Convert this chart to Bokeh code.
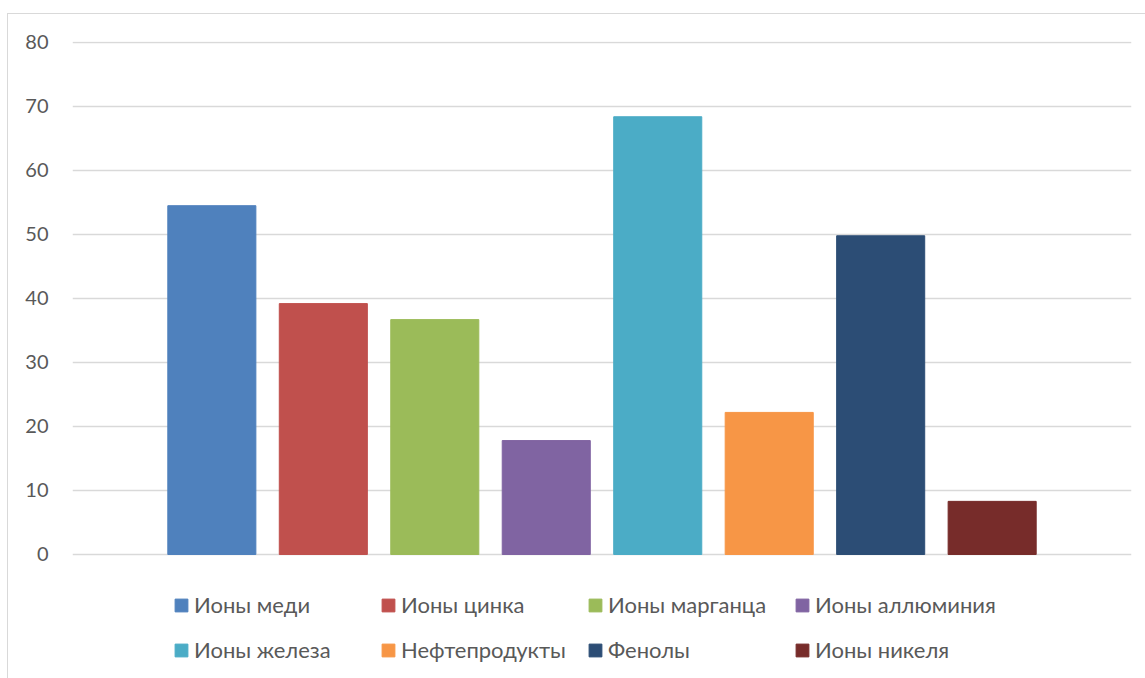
from bokeh.plotting import figure
from bokeh.models import (ColumnDataSource, Range1d, FixedTicker, Legend, LegendItem)
from bokeh.embed import file_html
from bokeh.resources import INLINE

# Pollutant categories and their values
categories = ["Ионы меди", "Ионы цинка", "Ионы марганца", "Ионы аллюминия",
              "Ионы железа", "Нефтепродукты", "Фенолы", "Ионы никеля"]
values = [54.5, 39.2, 36.7, 17.8, 68.4, 22.2, 49.8, 8.3]
y_ticks = [0, 10, 20, 30, 40, 50, 60, 70, 80]

palette = ["#4F81BD", "#C0504D", "#9BBB59", "#8064A2",
           "#4BACC6", "#F79646", "#2C4D75", "#772C2A"]

FONT = "Lato"
TEXT_COLOR = "#595959"

source = ColumnDataSource(data=dict(
    x=list(range(len(categories))),
    top=values,
    label=categories,
    color=palette,
))

# The frame reaches down past zero so that the legend rows sit inside it.
p = figure(
    width=1138, height=665,
    x_range=Range1d(-1.25, len(categories) + 0.25),
    y_range=Range1d(-19.22, 80.156),
    output_backend="svg", toolbar_location=None,
    min_border_left=64, min_border_right=15,
    min_border_top=27, min_border_bottom=2,
)
p.margin = (13, 0, 0, 7)
p.styles = {"border-top": "1px solid #d9d9d9",
            "border-left": "1px solid #d9d9d9",
            "box-sizing": "border-box"}

p.outline_line_color = None
p.background_fill_color = "white"
p.border_fill_color = "white"

r = p.vbar(x="x", top="top", bottom=0, width=0.79, color="color", source=source)

# Axes
p.xaxis.visible = False
p.xgrid.grid_line_color = None
p.yaxis.ticker = FixedTicker(ticks=y_ticks)
p.yaxis.axis_line_color = None
p.yaxis.major_tick_line_color = None
p.yaxis.minor_tick_line_color = None
p.yaxis.major_tick_out = 0
p.yaxis.major_tick_in = 0
p.yaxis.major_label_standoff = 24
p.yaxis.major_label_text_font = FONT
p.yaxis.major_label_text_font_size = "20px"
p.yaxis.major_label_text_color = TEXT_COLOR
p.ygrid.grid_line_color = "#d9d9d9"
p.ygrid.grid_line_width = 1.5

# Legend: two rows of four entries below the bars
def make_legend(indices, y_off):
    items = [LegendItem(label=categories[i], renderers=[r], index=i) for i in indices]
    lg = Legend(items=items, orientation="horizontal", location=(101, y_off))
    lg.glyph_width = 16
    lg.glyph_height = 16
    lg.label_height = 16
    lg.label_width = 176
    lg.label_standoff = 5
    lg.spacing = 10
    lg.padding = 0
    lg.margin = 0
    lg.border_line_color = None
    lg.background_fill_alpha = 0
    lg.label_text_font = FONT
    lg.label_text_font_size = "22px"
    lg.label_text_color = TEXT_COLOR
    lg.click_policy = "none"
    return lg

p.add_layout(make_legend([0, 1, 2, 3], 59), "center")
p.add_layout(make_legend([4, 5, 6, 7], 14), "center")

open("out.html", "w").write(file_html(p, INLINE))
